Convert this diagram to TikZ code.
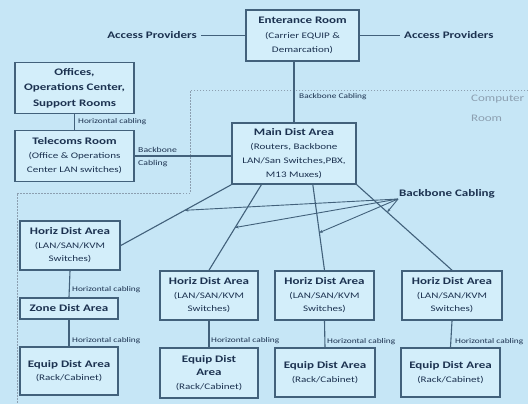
\documentclass[tikz,border=0pt]{standalone}
\usepackage{fontspec}
\setmainfont[FakeStretch=1.3]{Carlito}
\usetikzlibrary{arrows.meta,calc}
\definecolor{bgblue}{HTML}{C6E6F6}
\definecolor{boxfill}{HTML}{D3EEFA}
\definecolor{edge}{HTML}{42617B}
\definecolor{ink}{HTML}{1C3250}
\definecolor{roomgrey}{HTML}{8C9FB0}
\newcommand{\ttl}[1]{{\bfseries\fontsize{10}{13}\selectfont #1}}
\tikzset{
	room/.style={draw=edge,line width=1.6pt,fill=boxfill,text=ink,align=center,inner sep=0pt,font=\fontsize{8.5}{13.5}\selectfont},
	cable/.style={draw=edge,line width=1.1pt},
	pointer/.style={draw=edge,line width=0.9pt,-{Stealth[length=3.5pt,width=3pt]}},
	tag/.style={text=ink,font=\fontsize{7.2}{13}\selectfont,inner sep=1pt},
	bigtag/.style={text=ink,font=\fontsize{10}{11}\selectfont\bfseries,inner sep=4pt},
	roomline/.style={draw=roomgrey,line width=0.7pt,dash pattern=on 1.5pt off 1.5pt}
}
\begin{document}
\begin{tikzpicture}[x=1pt,y=-1pt]
	\fill[bgblue] (0,0) rectangle (528,404);
	\useasboundingbox (0,0) rectangle (528,404);

	\draw[roomline] (528,90) -- (190,90) -- (190,193) -- (17,193) -- (17,404);
	\node[anchor=west,text=roomgrey,font=\fontsize{10}{11}\selectfont,inner sep=0pt] (crm1) at (471,99) {Computer};
	\node[anchor=west,text=roomgrey,font=\fontsize{10}{11}\selectfont,inner sep=0pt] (crm2) at (471,118) {Room};

	\node[room,minimum width=113,minimum height=51,font=\fontsize{8.5}{14.5}\selectfont] (ent) at (302.5,35.5) {\ttl{Enterance Room}\\(Carrier EQUIP \&\\Demarcation)};
	\node[bigtag,anchor=east] (ap1) at (201,35.5) {Access Providers};
	\node[bigtag,anchor=west] (ap2) at (400,35.5) {Access Providers};
	\node[room,minimum width=119,minimum height=51,font=\fontsize{10}{15.5}\selectfont\bfseries] (off) at (74.5,88) {Offices,\\Operations Center,\\Support Rooms};
	\node[room,minimum width=119,minimum height=51,font=\fontsize{8.5}{14}\selectfont] (tel) at (74.5,156) {\ttl{Telecoms Room}\\(Office \& Operations\\Center LAN switches)};
	\node[room,minimum width=124,minimum height=61,font=\fontsize{8.5}{14}\selectfont] (mda) at (294,153.5) {\ttl{Main Dist Area}\\(Routers, Backbone\\LAN/San Switches,PBX,\\M13 Muxes)};

	\node[room,minimum width=100,minimum height=49] (hda1) at (70,245.5) {\ttl{Horiz Dist Area}\\(LAN/SAN/KVM\\Switches)};
	\node[room,minimum width=98,minimum height=21] (zda) at (69,308.5) {\ttl{Zone Dist Area}};
	\node[room,minimum width=98,minimum height=48] (eda1) at (69,371) {\ttl{Equip Dist Area}\\(Rack/Cabinet)};
	\node[room,minimum width=98,minimum height=49] (hda2) at (209,295.5) {\ttl{Horiz Dist Area}\\(LAN/SAN/KVM\\Switches)};
	\node[room,minimum width=98,minimum height=50] (eda2) at (209,373) {\ttl{Equip Dist}\\\ttl{Area}\\(Rack/Cabinet)};
	\node[room,minimum width=99,minimum height=49] (hda3) at (324.5,295.5) {\ttl{Horiz Dist Area}\\(LAN/SAN/KVM\\Switches)};
	\node[room,minimum width=100,minimum height=49] (eda3) at (325,372.5) {\ttl{Equip Dist Area}\\(Rack/Cabinet)};
	\node[room,minimum width=100,minimum height=49] (hda4) at (452,295.5) {\ttl{Horiz Dist Area}\\(LAN/SAN/KVM\\Switches)};
	\node[room,minimum width=99,minimum height=49] (eda4) at (450.5,372.5) {\ttl{Equip Dist Area}\\(Rack/Cabinet)};

	\draw[cable] (ap1.east) -- (ent.west);
	\draw[cable] (ent.east) -- (ap2.west);
	\draw[cable] (mda.north) -- (mda.north |- ent.south);
	\draw[cable] (off.south) -- (tel.north);
	\draw[cable] (tel.east) -- (tel.east -| mda.west);
	\node[tag,anchor=west] (hc0) at (77,122) {Horizontal cabling};
	\node[tag,anchor=west,align=left,font=\fontsize{7.5}{13}\selectfont] (bb1) at (137,157) {Backbone\\Cabling};
	\node[tag,anchor=west] (bb2) at (298,97) {Backbone Cabling};

	\coordinate (m2) at ($(mda.south west)!0.24!(mda.south east)$);
	\coordinate (m3) at ($(mda.south west)!0.65!(mda.south east)$);
	\draw[cable] (mda.south west) -- (hda1.east);
	\draw[cable] (m2) -- (hda2.north);
	\draw[cable] (m3) -- (hda3.north);
	\draw[cable] (mda.south east) -- (hda4.north);

	\node[bigtag,anchor=south west,inner sep=1pt] (bbc) at (398,199) {Backbone Cabling};
	\draw[pointer] (bbc.south west) -- ($(mda.south west)!0.42!(hda1.east)$);
	\draw[pointer] (bbc.south west) -- ($(m2)!0.5!(hda2.north)$);
	\draw[pointer] (bbc.south west) -- ($(m3)!0.56!(hda3.north)$);
	\draw[pointer] (bbc.south west) -- ($(mda.south east)!0.32!(hda4.north)$);

	\draw[cable] (hda1.south) -- (zda.north);
	\draw[cable] (zda.south) -- (eda1.north);
	\draw[cable] (hda2.south) -- (eda2.north);
	\draw[cable] (hda3.south) -- (eda3.north);
	\draw[cable] (hda4.south) -- (eda4.north);
	\node[tag,anchor=west] (hc1) at (71,290) {Horizontal cabling};
	\node[tag,anchor=west] (hc2) at (71,341) {Horizontal cabling};
	\node[tag,anchor=west] (hc3) at (210,341) {Horizontal cabling};
	\node[tag,anchor=west] (hc4) at (326,342) {Horizontal cabling};
	\node[tag,anchor=west] (hc5) at (454,342) {Horizontal cabling};
\end{tikzpicture}
\end{document}
